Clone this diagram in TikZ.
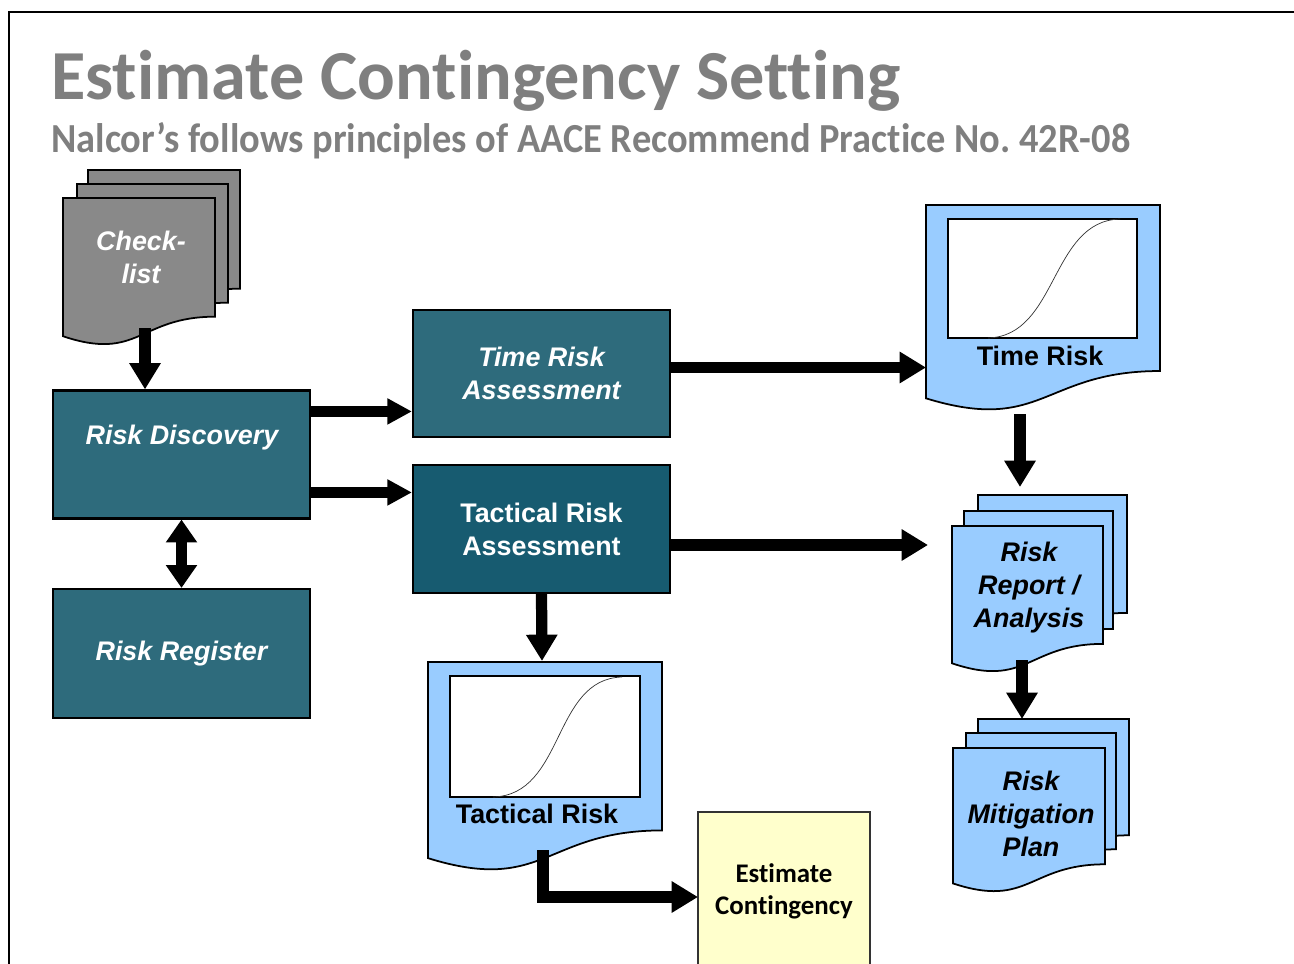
\documentclass[tikz,border=0pt]{standalone}
\usepackage{fontspec}
\setmainfont{Liberation Sans}
\newfontfamily\calibri[Ligatures=NoCommon]{Carlito}
\newfontfamily\calibrinarrow[Ligatures=NoCommon, FakeStretch=0.93]{Carlito}
\usetikzlibrary{arrows.meta}

\definecolor{titlegray}{HTML}{7F7F7F}
\definecolor{sheetgray}{HTML}{898989}
\definecolor{tealbox}{HTML}{2E6B7C}
\definecolor{tealdark}{HTML}{175B70}
\definecolor{docblue}{HTML}{99CCFF}
\definecolor{estyellow}{HTML}{FFFFCC}

\tikzset{
  riskbox/.style={draw=black, line width=1.2pt, fill=tealbox, inner sep=0pt,
    minimum width=257*0.02cm, minimum height=128*0.02cm},
  boxtext/.style={text=white, align=center, inner sep=0pt,
    font=\bfseries\itshape\fontsize{15.3}{18.8}\selectfont},
  doctext/.style={text=black, align=center, inner sep=0pt,
    font=\bfseries\fontsize{15.3}{18.8}\selectfont},
  sheet/.style={draw=black, line width=1pt, fill=docblue},
  graysheet/.style={draw=black, line width=1pt, fill=sheetgray},
  chart/.style={draw=black, line width=0.6pt, fill=white},
  bigarrow/.style={line width=6.4pt, -{Triangle[length=15pt,width=17pt]}},
  dblarrow/.style={line width=6.8pt, {Triangle[length=13pt,width=17pt]}-{Triangle[length=13pt,width=17pt]}},
  estbox/.style={draw=black!80, line width=0.8pt, fill=estyellow, align=center,
    minimum width=172*0.02cm, minimum height=158*0.02cm,
    font=\calibri\bfseries\fontsize{15.3}{18.2}\selectfont}
}

% page with a wavy bottom: style, x0, y0, x1, height
\newcommand{\docshape}[5]{%
  \filldraw[#1] (#2,#3) -- (#4,#3) -- (#4,{#3+0.802*#5})
    .. controls ({(#2+#4)/2},{#3+0.802*#5}) and ({(#2+#4)/2},{#3+1.107*#5})
    .. (#2,{#3+0.934*#5}) -- cycle;}

\begin{document}
\begin{tikzpicture}[x=0.02cm, y=-0.02cm]
    \useasboundingbox (0,0) rectangle (1294,963);
    \clip (0,0) rectangle (1294,963);
    \draw[line width=1.2pt] (9,1000) -- (9,12) -- (1320,12);

    % headings
    \node[anchor=base west, inner sep=0pt, text=titlegray,
      font=\calibri\bfseries\fontsize{40}{44}\selectfont] (title) at (51,99)
      {Estimate Contingency Setting};
    \node[anchor=base west, inner sep=0pt, text=titlegray,
      font=\calibrinarrow\bfseries\fontsize{23.5}{28}\selectfont] (subtitle) at (51,153)
      {Nalcor’s follows principles of AACE Recommend Practice No.\ 42R-08};

    % check-list stack
    \docshape{graysheet}{88}{170}{240}{148}
    \docshape{graysheet}{77}{184}{228}{148}
    \docshape{graysheet}{63}{198}{215}{148}
    \node[boxtext] (check) at (141,257) {Check-\\list};
    \coordinate (checkS) at (145,328);

    % left column
    \node[riskbox] (disc) at (181.5,454.5) {};
    \node[boxtext] (disclabel) at (182,438) {Risk Discovery};
    \node[riskbox, boxtext, minimum width=257*0.02cm, minimum height=129*0.02cm] (reg) at (181.5,653.5) {Risk Register};

    % assessments
    \node[riskbox, boxtext, minimum width=257*0.02cm, minimum height=127*0.02cm] (timeass) at (541.5,373.5) {Time Risk\\Assessment};
    \node[riskbox, boxtext, fill=tealdark, font=\bfseries\fontsize{15.3}{18.8}\selectfont] (tacass) at (541.5,529) {Tactical Risk\\Assessment};

    % time risk sheet
    \docshape{sheet}{926}{205}{1160}{207}
    \draw[chart] (948,219) rectangle (1137,338);
    \draw[line width=0.4pt, black!80] (988,338) .. controls (1058,336) and (1050,221) .. (1120,219);
    \node[doctext] (timedoc) at (1040,356) {Time Risk};
    \coordinate (timedocW) at (926,367);
    \coordinate (timedocS) at (1020,414);

    % tactical risk sheet
    \docshape{sheet}{428}{662}{662}{210}
    \draw[chart] (450,676) rectangle (640,797);
    \draw[line width=0.4pt, black!80] (493,797) .. controls (565,795) and (552,679) .. (622,677);
    \node[doctext] (tacdoc) at (537,814) {Tactical Risk};
    \coordinate (tacdocN) at (542,661);
    \coordinate (tacdocS) at (543,850);

    % report stack
    \docshape{sheet}{978}{495}{1127}{147}
    \docshape{sheet}{964}{511}{1113}{147}
    \docshape{sheet}{952}{526}{1103}{147}
    \node[doctext, font=\bfseries\itshape\fontsize{15.3}{18.8}\selectfont] (report) at (1029,588) {Risk\\Report /\\Analysis};
    \coordinate (reportW) at (928,545);
    \coordinate (reportN) at (1020,487);
    \coordinate (reportS) at (1022,660);

    % mitigation stack
    \docshape{sheet}{978}{719}{1129}{145}
    \docshape{sheet}{966}{733}{1116}{145}
    \docshape{sheet}{953}{748}{1105}{145}
    \node[doctext, font=\bfseries\itshape\fontsize{15.3}{18.8}\selectfont] (mitig) at (1031,813.5) {Risk\\Mitigation\\Plan};
    \coordinate (mitigN) at (1022,719);

    % estimate
    \node[estbox] (estim) at (784,891) {Estimate\\Contingency};
    \coordinate (estimW) at (698,897);

    % connectors
    \draw[bigarrow] (checkS) -- (checkS |- disc.north);
    \draw[dblarrow] (disc.south) -- (reg.north);
    \path (disc.north east) ++(0,22) coordinate (d1);
    \path (disc.north east) ++(0,103) coordinate (d2);
    \draw[bigarrow, -{Triangle[length=14pt,width=14pt]}] (d1) -- (d1 -| timeass.west);
    \draw[bigarrow, -{Triangle[length=14pt,width=14pt]}] (d2) -- (d2 -| tacass.west);
    \path (timeass.east) ++(0,-6) coordinate (t1);
    \path (tacass.east) ++(0,16) coordinate (t2);
    \draw[bigarrow] (t1) -- (t1 -| timedocW);
    \draw[bigarrow] (t2) -- (t2 -| reportW);
    \draw[bigarrow] (timedocS) -- (reportN);
    \draw[bigarrow] (reportS) -- (mitigN);
    \draw[bigarrow] (tacass.south) -- (tacdocN);
    \draw[bigarrow, line width=7.2pt] (tacdocS) |- (estimW);
\end{tikzpicture}
\end{document}
